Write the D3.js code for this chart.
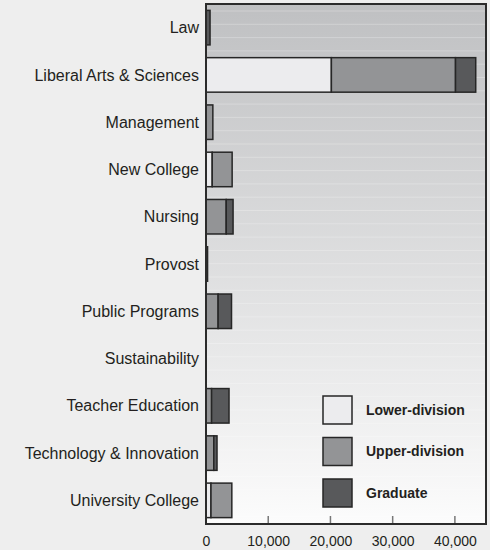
<!DOCTYPE html>
<html>
<head>
<meta charset="utf-8">
<script src="https://cdn.jsdelivr.net/npm/d3@7"></script>
<style>
  body { margin: 0; background: #eeeeee; }
  svg { display: block; }
  .lbl { font-family: "Liberation Sans Narrow", "Arial Narrow", "Liberation Sans", sans-serif; fill: #231f20; }
</style>
</head>
<body>
<div id="chart-area"></div>
<script>
// chart data
let colleges = ["Law", "Liberal Arts & Sciences", "Management", "New College", "Nursing",
  "Provost", "Public Programs", "Sustainability", "Teacher Education",
  "Technology & Innovation", "University College"];
let lowerDiv = [0, 20150, 0, 1000, 0, 0, 0, 0, 0, 0, 800];
let upperDiv = [0, 19950, 1100, 3200, 3250, 0, 1950, 0, 900, 1250, 3350];
let graduate = [650, 3250, 0, 0, 1100, 250, 2150, 0, 2800, 520, 0];
let seriesNames = ["Lower-division", "Upper-division", "Graduate"];
let xTicks = [0, 10000, 20000, 30000, 40000];

let width = 490, height = 550;
let margin = {top: 4, right: 4, bottom: 26, left: 206};
let colors = ["#ececee", "#939496", "#58595b"];

let svg = d3.select("#chart-area").append("svg")
    .attr("width", width)
    .attr("height", height);

let x = d3.scaleLinear()
    .domain([0, 45000])
    .range([margin.left, width - margin.right]);

let y = d3.scaleBand()
    .domain(colleges)
    .range([margin.top, height - margin.bottom])
    .paddingInner(0.27)
    .paddingOuter(0.135);

// background gradient
let defs = svg.append("defs");
let grad = defs.append("linearGradient")
    .attr("id", "bg").attr("x1", 0).attr("y1", 0).attr("x2", 0).attr("y2", 1);
grad.append("stop").attr("offset", "0%").attr("stop-color", "#bfc0c2");
grad.append("stop").attr("offset", "100%").attr("stop-color", "#fcfcfc");

svg.append("rect")
    .attr("x", margin.left).attr("y", margin.top)
    .attr("width", width - margin.right - margin.left)
    .attr("height", height - margin.bottom - margin.top)
    .attr("fill", "url(#bg)");

// faint bands in the background
let stripeY = d3.range(margin.top + 7, height - margin.bottom, 13.3);
svg.selectAll(".stripe")
    .data(stripeY)
    .enter().append("line")
    .attr("x1", margin.left).attr("x2", width - margin.right)
    .attr("y1", d => d).attr("y2", d => d)
    .attr("stroke", "#ffffff").attr("stroke-opacity", 0.25);

// stacked bars
let rows = colleges.map((c, i) => ({college: c, lower: lowerDiv[i], upper: upperDiv[i], grad: graduate[i]}));
let stack = d3.stack().keys(["lower", "upper", "grad"])(rows);

svg.selectAll(".layer")
    .data(stack)
    .enter().append("g")
    .attr("fill", (d, i) => colors[i])
    .selectAll("rect")
    .data(d => d.filter(p => p[1] - p[0] > 0))
    .enter().append("rect")
    .attr("x", d => x(d[0]))
    .attr("y", d => y(d.data.college))
    .attr("width", d => x(d[1]) - x(d[0]))
    .attr("height", y.bandwidth())
    .attr("stroke", "#262626")
    .attr("stroke-width", 1.5);

// category labels
svg.selectAll(".cat")
    .data(colleges)
    .enter().append("text")
    .attr("class", "lbl")
    .attr("x", margin.left - 7)
    .attr("y", d => y(d) + y.bandwidth() / 2)
    .attr("dy", "0.35em")
    .attr("text-anchor", "end")
    .attr("font-size", 16)
    .text(d => d);

// x axis: inward ticks
let xAxis = svg.append("g")
    .attr("transform", `translate(0,${height - margin.bottom})`)
    .call(d3.axisBottom(x).tickValues(xTicks).tickSize(0).tickPadding(12)
      .tickFormat(d3.format(",")));
xAxis.select(".domain").remove();
xAxis.selectAll("text")
    .attr("class", "lbl")
    .attr("font-size", 14)
    .attr("fill", "#231f20");

svg.selectAll(".tk")
    .data(xTicks.slice(1))
    .enter().append("line")
    .attr("x1", d => x(d)).attr("x2", d => x(d))
    .attr("y1", height - margin.bottom - 8).attr("y2", height - margin.bottom)
    .attr("stroke", "#777").attr("stroke-width", 1.5);

// frame
svg.append("rect")
    .attr("x", margin.left).attr("y", margin.top)
    .attr("width", width - margin.right - margin.left)
    .attr("height", height - margin.bottom - margin.top)
    .attr("fill", "none")
    .attr("stroke", "#2b2b2b")
    .attr("stroke-width", 2);

// legend
let legend = svg.append("g")
    .attr("transform", "translate(323,396)");
let items = legend.selectAll("g")
    .data(seriesNames)
    .enter().append("g")
    .attr("transform", (d, i) => `translate(0,${i * 41.5})`);
items.append("rect")
    .attr("width", 29).attr("height", 28)
    .attr("fill", (d, i) => colors[i])
    .attr("stroke", "#262626").attr("stroke-width", 1.5);
items.append("text")
    .attr("class", "lbl")
    .attr("x", 43).attr("y", 14).attr("dy", "0.35em")
    .attr("font-size", 14).attr("font-weight", "bold")
    .text(d => d);
</script>
</body>
</html>
